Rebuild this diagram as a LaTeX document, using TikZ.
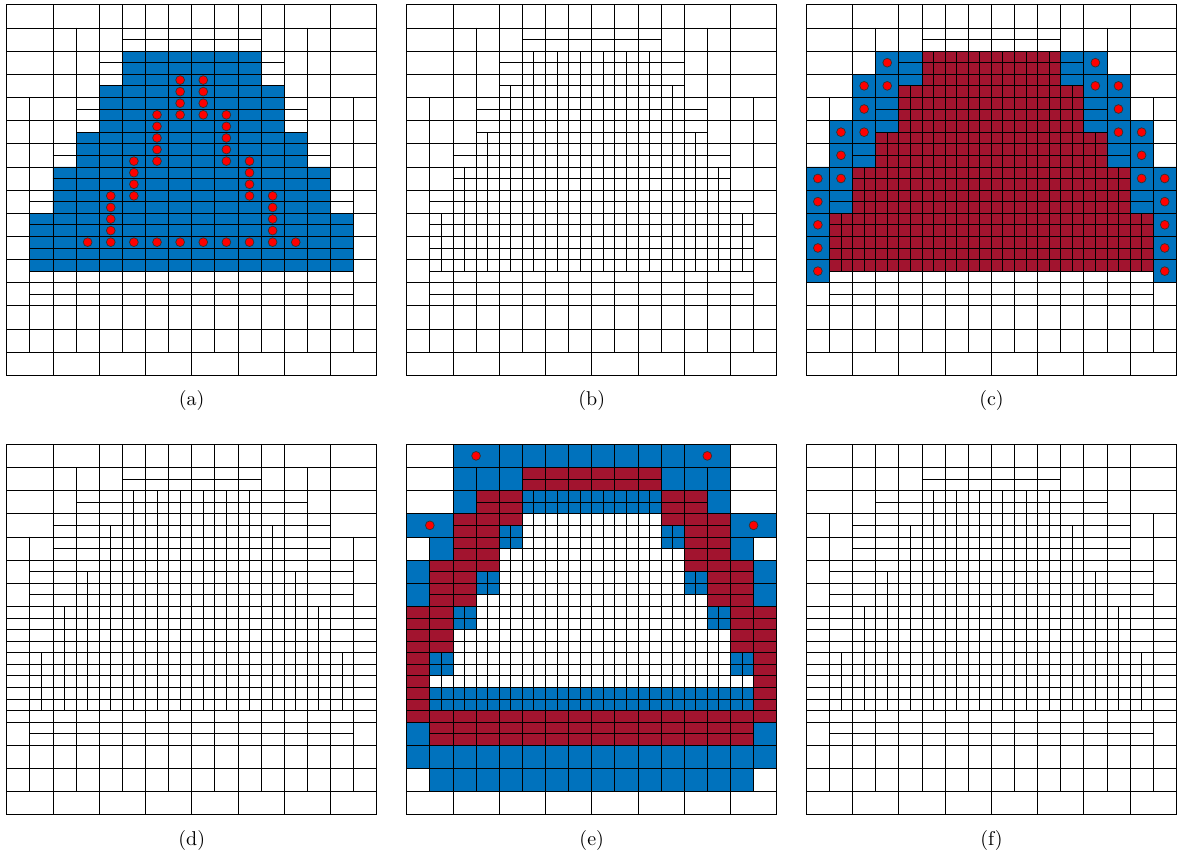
\documentclass[tikz,border=0pt]{standalone}
\usepackage{xcolor}
\definecolor{cellblue}{HTML}{0072BD}
\definecolor{cellred}{HTML}{A2142F}

\tikzset{
  mesh/.style={black, line width=0.4pt, line cap=rect},
  dot/.style={fill=red, draw=black!80, line width=0.35pt},
  panel/.style={x=11.5625pt, y=-11.58pt},
}

% lines shared by all six meshes
\newcommand{\meshFrame}{%
  \draw[mesh] (0,0) rectangle (16,16);
  \foreach \y in {1,...,15} \draw[mesh] (0,\y) -- (16,\y);
  \foreach \x in {2,4,...,14} \draw[mesh] (\x,0) -- (\x,16);
  \foreach \x in {5,7,9,11} \draw[mesh] (\x,0) -- (\x,15);
  \draw[mesh] (5,1.5) -- (11,1.5);
  \draw[mesh] (1,12.5) -- (15,12.5);
}
% the split columns, missing in (a)
\newcommand{\meshSplit}{%
  \foreach \x in {5.5,6.5,...,10.5} \draw[mesh] (\x,2) -- (\x,11.5);
  \foreach \a/\b in {4.5/3.5, 3.5/5.5, 2.5/7, 1.5/9} {
    \draw[mesh] (\a,\b) -- (\a,11.5);
    \draw[mesh] ({16-\a},\b) -- ({16-\a},11.5);
  }
}
% #1 top of the lines x=3,13; #2 top of the lines x=1,15; #3 half lines y/from
\newcommand{\meshExtra}[3]{%
  \foreach \x in {3,13} \draw[mesh] (\x,#1) -- (\x,15);
  \foreach \x in {1,15} \draw[mesh] (\x,#2) -- (\x,15);
  \foreach \y/\a in {#3} \draw[mesh] (\a,\y) -- ({16-\a},\y);
}
\newcommand{\meshStart}{\meshFrame\meshExtra{1}{4}{2.5/4, 3.5/4, 4.5/3, 5.5/3, 6.5/2, 7.5/2, 8.5/1, 9.5/1, 10.5/1, 11.5/1}}
\newcommand{\meshMiddle}{\meshFrame\meshSplit\meshExtra{1}{4}{2.5/3, 3.5/2, 4.5/2, 5.5/1, 6.5/1, 7.5/0, 8.5/0, 9.5/0, 10.5/0, 11.5/0}}
\newcommand{\meshFine}{\meshFrame\meshSplit\meshExtra{0}{3}{2.5/3, 3.5/2, 4.5/2, 5.5/1, 6.5/1, 7.5/0, 8.5/0, 9.5/0, 10.5/0, 11.5/0}}
\newcommand{\fineRegion}{(5,2) -- (11,2) -- (11,3.5) -- (12,3.5) -- (12,5.5) -- (13,5.5) -- (13,7) -- (14,7) -- (14,9) -- (15,9) -- (15,11.5) -- (1,11.5) -- (1,9) -- (2,9) -- (2,7) -- (3,7) -- (3,5.5) -- (4,5.5) -- (4,3.5) -- (5,3.5) -- cycle}

\begin{document}
\begin{tikzpicture}[x=0.5pt, y=-0.5pt]
\useasboundingbox (0,0) rectangle (1180,854);

% (a)
\begin{scope}[panel, xshift=3.35pt, yshift=-2.4pt]
\fill[cellblue] \fineRegion;
\meshStart
\foreach \x/\ylist in {7.5/{3.25,3.75,4.25,4.75}, 6.5/{4.75,5.25,5.75,6.25,6.75}, 5.5/{6.75,7.25,7.75,8.25,10.25}, 4.5/{8.25,8.75,9.25,9.75,10.25}, 3.5/{10.25}, 6.5/{10.25}, 7.5/{10.25}}
  \foreach \y in \ylist {
    \draw[dot] (\x,\y) circle (2.2pt);
    \draw[dot] ({16-\x},\y) circle (2.2pt);
  }
\end{scope}

% (b)
\begin{scope}[panel, xshift=203.35pt, yshift=-2.4pt]
\meshStart
\meshSplit
\end{scope}

% (c)
\begin{scope}[panel, xshift=403.15pt, yshift=-2.4pt]
\fill[cellred] \fineRegion;
\foreach \s/\o in {1/0, -1/16}
  \fill[cellblue, xscale=\s, shift={(\s*\o,0)}] (3,2) -- (5,2) -- (5,3.5) -- (4,3.5) -- (4,5.5) -- (3,5.5) -- (3,7) -- (2,7) -- (2,9) -- (1,9) -- (1,12) -- (0,12) -- (0,7) -- (1,7) -- (1,5) -- (2,5) -- (2,3) -- (3,3) -- cycle;
\meshStart
\meshSplit
\foreach \x/\y in {3.5/2.5, 2.5/3.5, 3.5/3.5, 2.5/4.5, 2.5/5.5, 1.5/5.5, 1.5/6.5, 1.5/7.5, 0.5/7.5, 0.5/8.5, 0.5/9.5, 0.5/10.5, 0.5/11.5} {
  \draw[dot] (\x,\y) circle (2.2pt);
  \draw[dot] ({16-\x},\y) circle (2.2pt);
}
\end{scope}

% (d)
\begin{scope}[panel, xshift=3.35pt, yshift=-222.15pt]
\meshMiddle
\end{scope}

% (e)
\begin{scope}[panel, xshift=203.35pt, yshift=-222.15pt]
\foreach \a/\b/\c/\d in {2/0/8/1, 2/1/5/2, 2/2/3/3, 5/2/8/3, 0/3/2/4, 4/3.5/5/4, 1/4/2/5, 4/4/5/4.5, 0/5/1/6, 3/5.5/4/6, 0/6/1/7, 3/6/4/6.5, 2/7/3/8, 1/9/2/10, 1/10.5/8/11, 1/11/8/11.5, 0/12/1/13, 0/13/8/14, 1/14/8/15} {
  \fill[cellblue] (\a,\b) rectangle (\c,\d);
  \fill[cellblue] ({16-\a},\b) rectangle ({16-\c},\d);
}
\foreach \a/\b/\c/\d in {5/1/8/2, 3/2/5/3, 2/3/5/3.5, 2/3.5/4/4, 2/4/4/5, 1/5/4/5.5, 1/5.5/3/6, 1/6/3/7, 0/7/2/9, 0/9/1/12, 0/11.5/8/12, 1/12/8/13} {
  \fill[cellred] (\a,\b) rectangle (\c,\d);
  \fill[cellred] ({16-\a},\b) rectangle ({16-\c},\d);
}
\meshMiddle
\foreach \x/\y in {3/0.5, 13/0.5, 1/3.5, 15/3.5} \draw[dot] (\x,\y) circle (2.2pt);
\end{scope}

% (f)
\begin{scope}[panel, xshift=403.15pt, yshift=-222.15pt]
\meshFine
\end{scope}

\node (capA) at (191.7,401) {(a)};
\node (capB) at (591.7,401) {(b)};
\node (capC) at (991.5,401) {(c)};
\node (capD) at (191.7,841) {(d)};
\node (capE) at (591.7,841) {(e)};
\node (capF) at (991.5,841) {(f)};
\end{tikzpicture}
\end{document}
